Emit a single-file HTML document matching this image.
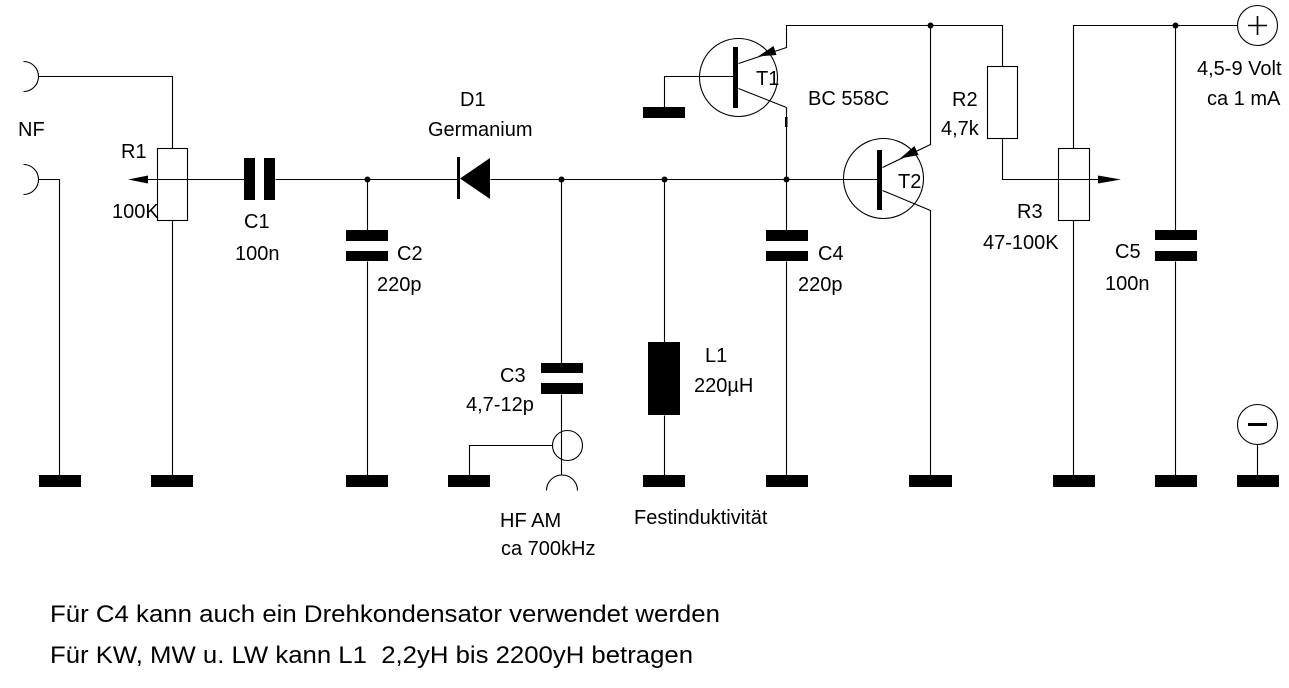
<!DOCTYPE html>
<html>
<head>
<meta charset="utf-8">
<style>
html,body{margin:0;padding:0;background:#fff;}
svg{display:block;}
text{font-family:"Liberation Sans",Arial,sans-serif;fill:#000;}
</style>
</head>
<body>
<svg width="1289" height="688" viewBox="0 0 1289 688" xmlns="http://www.w3.org/2000/svg">
<rect width="1289" height="688" fill="#fff"/>

<!-- wires -->
<g stroke="#000" stroke-width="1.1" fill="none" transform="translate(0.5,0.5)">
  <!-- NF jacks -->
  <path d="M23,61 A15,15 0 0 1 23,91"/>
  <path d="M38,76 H172 V148"/>
  <path d="M23,164 A15,15 0 0 1 23,194"/>
  <path d="M38,179 H59 V475"/>
  <!-- R1 -->
  <rect x="157" y="148" width="30" height="72"/>
  <path d="M172,220 V475"/>
  <!-- main line -->
  <path d="M130,179 H244"/>
  <path d="M275,179 H457"/>
  <path d="M490,179 H877"/>
  <!-- C2 -->
  <path d="M367,179 V230 M367,261 V475"/>
  <!-- C3 / HF jack -->
  <path d="M561,179 V363 M561,394 V475"/>
  <circle cx="567" cy="445" r="15"/>
  <path d="M552,445 H469 V475"/>
  <path d="M546,490 A15.5,15.5 0 0 1 577,490"/>
  <!-- L1 -->
  <path d="M664,179 V342 M664,415 V475"/>
  <!-- C4 -->
  <path d="M786,107 V230 M786,261 V475"/>
  <!-- T1 -->
  <circle cx="738" cy="77" r="39"/>
  <path d="M733,76 H664 V107"/>
  <path d="M738,63 L786,47 V25 H1002 V66"/>
  <path d="M738,88 L786,107"/>
  <!-- T2 -->
  <circle cx="883" cy="178" r="40"/>
  <path d="M882,167 L930,144 V25"/>
  <path d="M882,190 L930,210 V475"/>
  <!-- R2 -->
  <rect x="987" y="66" width="30" height="72"/>
  <path d="M1002,138 V179 H1100"/>
  <!-- R3 -->
  <rect x="1058" y="148" width="31" height="72"/>
  <path d="M1073,148 V25 H1237 M1073,220 V475"/>
  <!-- C5 -->
  <path d="M1175,25 V230 M1175,261 V475"/>
  <!-- supply -->
  <circle cx="1257" cy="25" r="20"/>
  <circle cx="1257" cy="424" r="20"/>
  <path d="M1257,444 V475"/>
</g>

<!-- filled parts -->
<g fill="#000">
  <!-- C1 -->
  <rect x="244" y="158" width="11" height="42"/>
  <rect x="264" y="158" width="11" height="42"/>
  <!-- C2 -->
  <rect x="346" y="230" width="42" height="11"/>
  <rect x="346" y="251" width="42" height="10"/>
  <!-- C3 -->
  <rect x="541" y="363" width="42" height="10"/>
  <rect x="541" y="383" width="42" height="11"/>
  <!-- C4 -->
  <rect x="766" y="230" width="42" height="11"/>
  <rect x="766" y="251" width="42" height="10"/>
  <!-- C5 -->
  <rect x="1155" y="230" width="42" height="10"/>
  <rect x="1155" y="251" width="42" height="10"/>
  <!-- L1 -->
  <rect x="648" y="342" width="32" height="73"/>
  <!-- diode -->
  <rect x="457" y="157" width="3" height="42"/>
  <polygon points="460,178.5 490,158 490,199"/>
  <!-- transistor bases -->
  <rect x="733" y="47" width="5" height="61"/>
  <rect x="877" y="150" width="5" height="60"/>
  <!-- grounds -->
  <rect x="643" y="107" width="42" height="11"/>
  <rect x="39" y="475" width="42" height="12"/>
  <rect x="151" y="475" width="42" height="12"/>
  <rect x="346" y="475" width="42" height="12"/>
  <rect x="448" y="475" width="42" height="12"/>
  <rect x="643" y="475" width="42" height="12"/>
  <rect x="766" y="475" width="42" height="12"/>
  <rect x="909" y="475" width="43" height="12"/>
  <rect x="1053" y="475" width="42" height="12"/>
  <rect x="1155" y="475" width="42" height="12"/>
  <rect x="1237" y="475" width="42" height="12"/>
  <!-- wiper arrows -->
  <polygon points="128,179.5 148,175.5 148,183.5"/>
  <polygon points="1121,179.5 1098,175.5 1098,183.5"/>
  <!-- emitter arrows -->
  <polygon points="758,56.5 776.5,55 773.5,46"/>
  <polygon points="900,158.5 918.5,155 914.5,146"/>
  <!-- junction dots -->
  <circle cx="367.5" cy="179.5" r="3"/>
  <circle cx="561.5" cy="179.5" r="3"/>
  <circle cx="664.5" cy="179.5" r="3"/>
  <circle cx="786.5" cy="179.5" r="3"/>
  <circle cx="930.5" cy="25.5" r="3"/>
  <circle cx="1175.5" cy="25.5" r="3"/>
  <!-- small mark on T1 collector -->
  <rect x="785" y="117" width="2.5" height="10"/>
  <!-- minus sign -->
  <rect x="1248" y="423" width="19" height="3"/>
</g>
<!-- plus sign -->
<g stroke="#000" stroke-width="1.6">
  <line x1="1248" y1="25.5" x2="1267" y2="25.5"/>
  <line x1="1257.5" y1="16" x2="1257.5" y2="35"/>
</g>

<!-- labels -->
<g font-size="20">
  <text x="18" y="136">NF</text>
  <text x="121" y="158">R1</text>
  <text x="112" y="218">100K</text>
  <text x="244" y="228">C1</text>
  <text x="235" y="260">100n</text>
  <text x="397" y="260">C2</text>
  <text x="377" y="291">220p</text>
  <text x="460" y="106">D1</text>
  <text x="428" y="136">Germanium</text>
  <text x="818" y="260">C4</text>
  <text x="798" y="291">220p</text>
  <text x="756" y="85">T1</text>
  <text x="808" y="105">BC 558C</text>
  <text x="898" y="188">T2</text>
  <text x="952" y="106">R2</text>
  <text x="941" y="135">4,7k</text>
  <text x="1017" y="218">R3</text>
  <text x="983" y="249">47-100K</text>
  <text x="1115" y="258">C5</text>
  <text x="1105" y="290">100n</text>
  <text x="1197" y="75">4,5-9 Volt</text>
  <text x="1207" y="105">ca 1 mA</text>
  <text x="500" y="382">C3</text>
  <text x="466" y="411">4,7-12p</text>
  <text x="705" y="362">L1</text>
  <text x="694" y="392">220µH</text>
  <text x="500" y="527">HF AM</text>
  <text x="501" y="555">ca 700kHz</text>
  <text x="634" y="524">Festinduktivität</text>
</g>
<g font-size="24">
  <text x="50" y="622" textLength="670" lengthAdjust="spacingAndGlyphs">Für C4 kann auch ein Drehkondensator verwendet werden</text>
  <text x="50" y="663" textLength="643" lengthAdjust="spacingAndGlyphs" xml:space="preserve">Für KW, MW u. LW kann L1  2,2yH bis 2200yH betragen</text>
</g>
</svg>
</body>
</html>
